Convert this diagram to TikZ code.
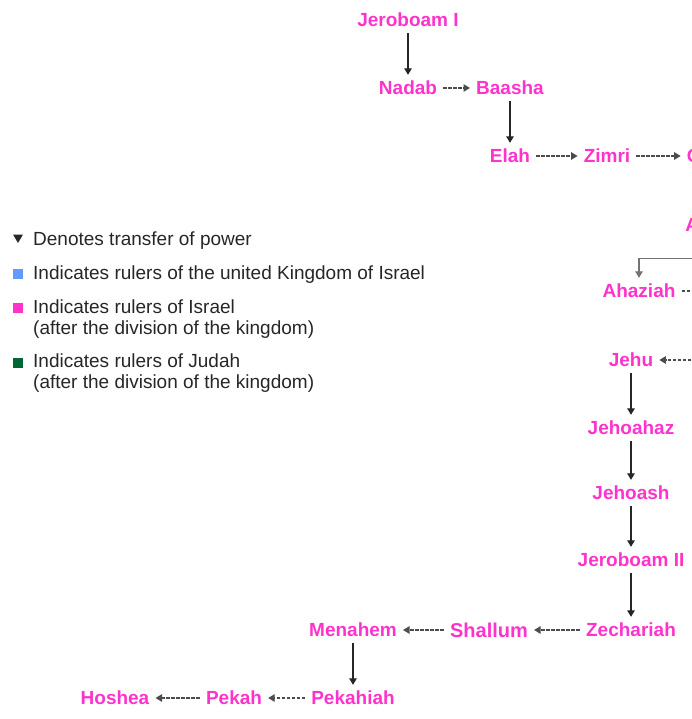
\documentclass[tikz,border=0pt]{standalone}
\usepackage{fontspec}
\setmainfont{Liberation Sans}
\usetikzlibrary{positioning,arrows.meta}
\definecolor{israelpink}{RGB}{255,51,204}
\definecolor{unitedblue}{RGB}{102,153,255}
\definecolor{judahgreen}{RGB}{0,102,51}
\tikzset{
  king/.style={text=israelpink, font=\fontsize{19}{22}\selectfont\bfseries, inner sep=6pt},
  pass/.style={draw=black!85, line width=1.3pt, -{Triangle[length=6.5pt,width=7.5pt]}},
  seize/.style={draw=black!70, line width=1.3pt, dash pattern=on 3.5pt off 1.5pt, -{Triangle[length=6.5pt,width=7.5pt]}},
  key/.style={anchor=base west, inner sep=0pt, align=left, font=\fontsize{19}{21}\selectfont, text=black!85},
  swatch/.style={minimum size=10pt, inner sep=0pt}
}

\begin{document}
\begin{tikzpicture}[x=1pt, y=-1pt, on grid]
  \useasboundingbox (0,0) rectangle (691,719);

  \node[king]                                  (jer1) at (408,20) {Jeroboam I};
  \node[king, below=68pt of jer1]              (nadab) {Nadab};
  \node[king, right=102pt of nadab]            (baasha) {Baasha};
  \node[king, below=68pt of baasha]            (elah) {Elah};
  \node[king, right=97pt of elah]              (zimri) {Zimri};
  \node[king, right=102pt of zimri]            (omri) {Omri};
  \node[king, below=69pt of omri]              (ahab) {Ahab};
  \node[king, below left=66pt and 70pt of ahab] (ahaziah) {Ahaziah};
  \node[king, below left=69pt and 8pt of ahaziah] (jehu) {Jehu};
  \node[king, below=68pt of jehu]              (jehoahaz) {Jehoahaz};
  \node[king, below=65pt of jehoahaz]          (jehoash) {Jehoash};
  \node[king, below=67pt of jehoash]           (jer2) {Jeroboam II};
  \node[king, below=70pt of jer2]              (zech) {Zechariah};
  \node[king, left=142pt of zech, font=\fontsize{20}{22}\selectfont\bfseries] (shallum) {Shallum};
  \node[king, left=136pt of shallum]           (menahem) {Menahem};
  \node[king, below=68pt of menahem]           (pekahiah) {Pekahiah};
  \node[king, left=119pt of pekahiah]          (pekah) {Pekah};
  \node[king, left=119pt of pekah]             (hoshea) {Hoshea};

  \coordinate[right=80pt of ahaziah]           (rim1);
  \coordinate[right=80pt of jehu]              (rim2);

  \draw[pass]  (jer1) -- (nadab);
  \draw[seize] (nadab) -- (baasha);
  \draw[pass]  (baasha) -- (elah);
  \draw[seize] (elah) -- (zimri);
  \draw[seize] (zimri) -- (omri);
  \draw[pass, draw=black!55] (ahab.south) -- ++(0,20) -| (ahaziah);
  \draw[seize] (ahaziah) -- (rim1);
  \draw[seize] (rim2) -- (jehu);
  \draw[pass]  (jehu) -- (jehoahaz);
  \draw[pass]  (jehoahaz) -- (jehoash);
  \draw[pass]  (jehoash) -- (jer2);
  \draw[pass]  (jer2) -- (zech);
  \draw[seize] (zech) -- (shallum);
  \draw[seize] (shallum) -- (menahem);
  \draw[pass]  (menahem) -- (pekahiah);
  \draw[seize] (pekahiah) -- (pekah);
  \draw[seize] (pekah) -- (hoshea);

  \fill[black!85] (13,234.5) -- (23,234.5) -- (18,243) -- cycle;
  \node[swatch, fill=unitedblue] (kunited) at (18,274) {};
  \node[swatch, fill=israelpink] (kisrael) at (18,308) {};
  \node[swatch, fill=judahgreen] (kjudah)  at (18,363) {};

  \node[key] (ltransfer) at (33,245) {Denotes transfer of power};
  \node[key] (lunited)   at (33,279) {Indicates rulers of the united Kingdom of Israel};
  \node[key] (lisrael)   at (33,334) {Indicates rulers of Israel\\(after the division of the kingdom)};
  \node[key] (ljudah)    at (33,388) {Indicates rulers of Judah\\(after the division of the kingdom)};
\end{tikzpicture}
\end{document}
